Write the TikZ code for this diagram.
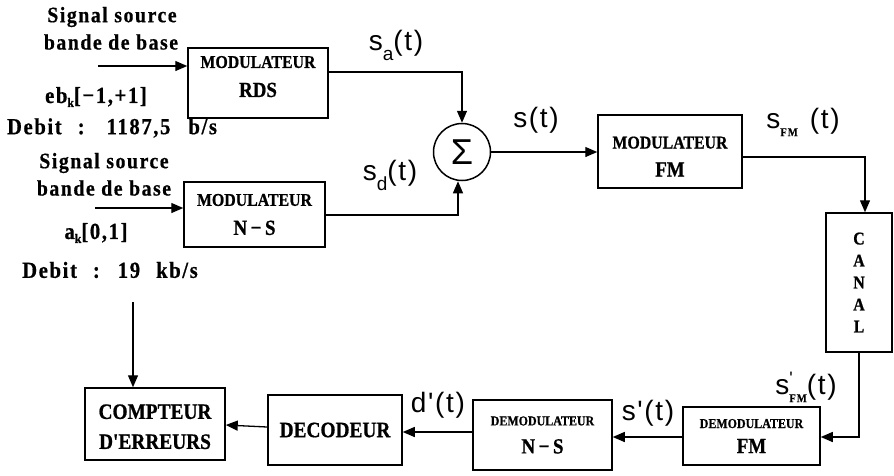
\documentclass[tikz,border=0pt]{standalone}
\usepackage{fontspec}
\usetikzlibrary{arrows.meta}
\setmainfont{Liberation Serif}
\newfontfamily\boxfam[FakeStretch=0.88,RawFeature={embolden=0.8}]{Liberation Serif Bold}
\newfontfamily\srcfam[LetterSpace=7,FakeStretch=0.9,RawFeature={embolden=0.6}]{Liberation Serif Bold}
\newfontfamily\labfam[LetterSpace=6]{Liberation Sans}
\newfontfamily\sigfam{Liberation Sans}
\newcommand\myfs[1]{\fontsize{#1}{#1}\selectfont}
\tikzset{
  box/.style={draw, line width=1.5pt, align=center, inner sep=0pt, font=\boxfam},
  arr/.style={line width=1.3pt, -{Triangle[length=12pt,width=10pt]}},
  src/.style={inner sep=0pt, font=\srcfam\myfs{22}},
  deb/.style={inner sep=0pt, font=\srcfam\myfs{23}},
  lab/.style={inner sep=0pt, font=\labfam\myfs{28}},
}
\begin{document}
\begin{tikzpicture}[x=1pt,y=-1pt]
\useasboundingbox (0,0) rectangle (894,475);
% blocks
\node[box, minimum width=140pt, minimum height=70pt, font=\boxfam\fontsize{18}{29}\selectfont] (rds) at (258,83) {MODULATEUR\\{\myfs{21.5}RDS}\rule[-13pt]{0pt}{0pt}};
\node[box, minimum width=141pt, minimum height=65pt, font=\boxfam\fontsize{18}{29}\selectfont] (ns) at (254.5,214.5) {MODULATEUR\\{\myfs{21.5}N\,−\,S}};
\node[draw, circle, line width=1.5pt, minimum size=57pt, inner sep=0pt, font=\sigfam\myfs{36}] (sum) at (462,152) {Σ};
\node[box, minimum width=144pt, minimum height=73pt, font=\boxfam\fontsize{18}{28}\selectfont] (fm) at (670,151.5) {\rule{0pt}{22pt}MODULATEUR\\{\myfs{21.5}FM}};
\node[box, minimum width=66pt, minimum height=139pt, font=\boxfam\fontsize{18}{22}\selectfont] (canal) at (859,282.5) {C\\A\\N\\A\\L};
\node[box, minimum width=137pt, minimum height=58pt, font=\boxfam\fontsize{13.6}{25}\selectfont] (dfm) at (751.5,436) {DEMODULATEUR\\{\myfs{21.5}FM}};
\node[box, minimum width=139pt, minimum height=70pt, font=\boxfam\fontsize{13.6}{28}\selectfont] (dns) at (542.5,435) {DEMODULATEUR\\{\myfs{21.5}N\,−\,S}};
\node[box, minimum width=134pt, minimum height=70pt, font=\boxfam\myfs{22}] (dec) at (335,430) {DECODEUR};
\node[box, minimum width=140pt, minimum height=72pt, font=\boxfam\fontsize{22}{30}\selectfont] (cpt) at (155,424) {\rule{0pt}{20pt}COMPTEUR\\D'ERREURS};
% source texts
\node[src] (sig1) at (112,17) {Signal source};
\node[src] (bb1) at (111,42) {bande de base};
\node[src, font=\srcfam\myfs{23}] (eb) at (96,97) {eb\raisebox{-4pt}{\myfs{13}k}[−1,+1]};
\node[deb] (deb1) at (112,128) {Debit\hspace{16pt}:\hspace{22pt}1187,5\hspace{18pt}b/s};
\node[src] (sig2) at (104,163) {Signal source};
\node[src] (bb2) at (104,188) {bande de base};
\node[src, font=\srcfam\myfs{23}] (ak) at (96,233) {a\raisebox{-4pt}{\myfs{13}k}[0,1]};
\node[deb] (deb2) at (110,270) {Debit\hspace{16pt}:\hspace{18pt}19\hspace{16pt}kb/s};
% signal labels
\node[lab] (sa) at (396,45) {s\raisebox{-10pt}{\myfs{19}a}(t)};
\node[lab] (sd) at (390,175) {s\raisebox{-10pt}{\myfs{19}d}(t)};
\node[lab] (st) at (536,120) {s(t)};
\node[lab] (sfm) at (803,122) {s\raisebox{-8pt}{\srcfam\myfs{12}FM}\hspace{12pt}(t)};
\node[lab] (sfmp) at (806,387) {s\rlap{\raisebox{10pt}{\myfs{18}'}}\raisebox{-8pt}{\srcfam\myfs{12}FM}(t)};
\node[lab] (sp) at (648,413) {s'(t)};
\node[lab] (dp) at (438,405) {d'(t)};
% connectors
\coordinate (i1) at (98,66);
\coordinate (i2) at (95,208);
\coordinate (c1) at (133,302);
\draw[arr] (i1) -- (i1 -| rds.west);
\draw[arr] (i2) -- (i2 -| ns.west);
\draw[arr] ([yshift=11pt]rds.east) -| (sum.north);
\draw[arr] ([yshift=-0.5pt]ns.east) -| ([xshift=-4pt]sum.south);
\draw[arr] (sum.east) -- (sum.east -| fm.west);
\draw[arr] ([yshift=-5.5pt]fm.east) -| ([xshift=6pt]canal.north);
\draw[arr] (canal.south) |- ([yshift=-1pt]dfm.east);
\draw[arr] ([yshift=-1pt]dfm.west) -- ([yshift=-2pt]dns.east);
\draw[arr] ([yshift=3pt]dns.west) -- ([yshift=-2pt]dec.east);
\draw[arr] ([yshift=3pt]dec.west) -- ([yshift=-1pt]cpt.east);
\draw[arr] (c1) -- (c1 |- cpt.north);
\end{tikzpicture}
\end{document}
